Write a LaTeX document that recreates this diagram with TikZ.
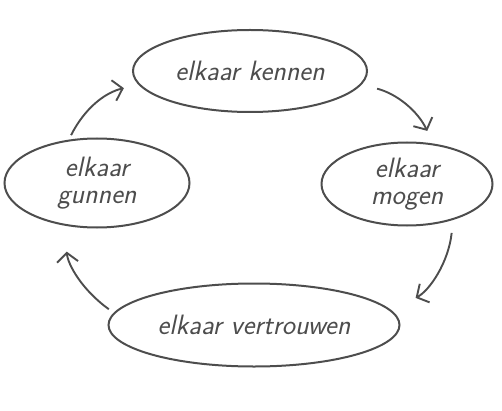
\documentclass[tikz,border=0pt]{standalone}
\usetikzlibrary{arrows.meta, shapes.geometric}
\definecolor{cink}{HTML}{4D4D4D}
\tikzset{
  every picture/.style={line width=1.5pt, x=1pt, y=1pt},
  blob/.style={ellipse, draw=cink, line width=2pt, inner sep=0pt, font=\sffamily\itshape\fontsize{28}{27}\selectfont, text=cink, align=center},
  arrow/.style={-{Straight Barb[length=9pt, width=21pt]}, draw=cink, line width=1.9pt},
}

\begin{document}
\begin{tikzpicture}
  \useasboundingbox (0, 0) rectangle (502, 410);
  \node[blob, minimum width=234, minimum height=82] (kennen) at (250, 339) {elkaar kennen};
  \node[blob, minimum width=171, minimum height=83] (mogen) at (407, 226) {elkaar\\mogen};
  \node[blob, minimum width=291, minimum height=83] (vertrouwen) at (254, 85) {elkaar vertrouwen};
  \node[blob, minimum width=185, minimum height=89] (gunnen) at (97, 227) {elkaar\\gunnen};
  \draw[arrow, shorten <=16pt, shorten >=14pt] (kennen.-7) to[bend left=25] (mogen.57);
  \draw[arrow, shorten <=13pt, shorten >=27pt] (mogen.-38) to[bend left=28] (vertrouwen.6);
  \draw[arrow, shorten <=6pt, shorten >=26pt] (vertrouwen.175) to[bend left=25] (gunnen.-127);
  \draw[arrow, shorten <=5pt, shorten >=15pt] (gunnen.123) to[bend left=25] (kennen.187);
\end{tikzpicture}
\end{document}
